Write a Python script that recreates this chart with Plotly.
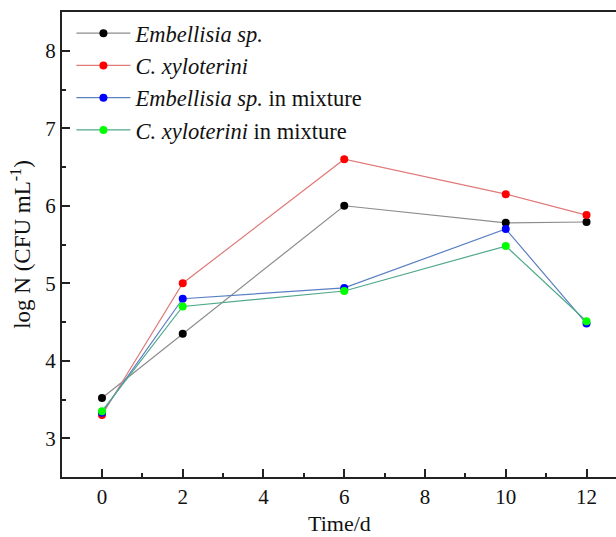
import plotly.graph_objects as go

# Sampling days
days = [0, 2, 6, 10, 12]

# log N (CFU mL-1) for each culture
embellisia = [3.52, 4.35, 6.00, 5.78, 5.79]
xyloterini = [3.30, 5.00, 6.60, 6.15, 5.88]
embellisia_mix = [3.33, 4.80, 4.94, 5.70, 4.48]
xyloterini_mix = [3.35, 4.70, 4.90, 5.48, 4.51]

series_names = [
    "<i>Embellisia sp.</i>",
    "<i>C. xyloterini</i>",
    "<i>Embellisia sp.</i> in mixture",
    "<i>C. xyloterini</i> in mixture",
]
series_values = [embellisia, xyloterini, embellisia_mix, xyloterini_mix]
line_colors = ["#8c8c8c", "#e07a7a", "#5b7fc4", "#4fa88a"]
marker_colors = ["#000000", "#ff0000", "#0000ff", "#00ff00"]

x_ticks = [0, 2, 4, 6, 8, 10, 12]
y_ticks = [3, 4, 5, 6, 7, 8]

FONT = "Liberation Serif, Times New Roman, serif"

fig = go.Figure()
for name, vals, lc, mc in zip(series_names, series_values, line_colors, marker_colors):
    fig.add_trace(go.Scatter(
        x=days, y=vals, name=name, mode="lines+markers",
        line=dict(color=lc, width=1.2),
        marker=dict(color=mc, size=8),
    ))

# x-axis title placed as a paper annotation below the tick labels
fig.add_annotation(
    text="Time/d", xref="paper", yref="paper", x=0.5, y=0,
    xanchor="center", yanchor="middle", yshift=-46, showarrow=False,
    font=dict(family=FONT, size=22, color="#111111"),
)

fig.update_layout(
    width=616, height=537,
    margin=dict(l=62, r=0, t=12, b=60),
    paper_bgcolor="white", plot_bgcolor="white",
    font=dict(family=FONT, size=21, color="#111111"),
    showlegend=True,
    legend=dict(
        x=0.017, y=1.0, xanchor="left", yanchor="top",
        bgcolor="rgba(0,0,0,0)", borderwidth=0,
        font=dict(family=FONT, size=22.5, color="#111111"),
        itemwidth=54, tracegroupgap=0,
    ),
    xaxis=dict(
        range=[-0.99, 12.73], tickvals=x_ticks,
        ticks="inside", ticklen=8, tickwidth=1.5, tickcolor="#222",
        minor=dict(dtick=1, ticks="inside", ticklen=4, tickwidth=1.5, tickcolor="#222"),
        showline=True, linecolor="#222", linewidth=2, mirror=True,
        showgrid=False, zeroline=False, automargin=False,
        tickfont=dict(family=FONT, size=21),
    ),
    yaxis=dict(
        range=[2.5, 8.5], tickvals=y_ticks,
        ticks="inside", ticklen=8, tickwidth=1.5, tickcolor="#222",
        minor=dict(dtick=0.5, ticks="inside", ticklen=4, tickwidth=1.5, tickcolor="#222"),
        showline=True, linecolor="#222", linewidth=2, mirror=False,
        showgrid=False, zeroline=False, automargin=False,
        tickfont=dict(family=FONT, size=21),
        title=dict(text="log N (CFU mL<sup>-1</sup>)", font=dict(family=FONT, size=23), standoff=8),
    ),
)

fig.write_html("out.html")
